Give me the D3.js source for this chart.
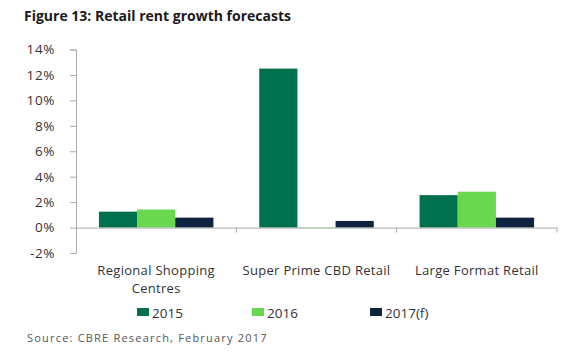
<!DOCTYPE html>
<html>
<head>
<meta charset="utf-8">
<script src="https://cdn.jsdelivr.net/npm/d3@7"></script>
<style>
  body { margin: 0; background: #fff; }
  text { font-family: "Open Sans", "DejaVu Sans", sans-serif; }
</style>
</head>
<body>
<svg id="chart" width="580" height="352"></svg>
<script>
const categories = [["Regional Shopping", "Centres"], ["Super Prime CBD Retail"], ["Large Format Retail"]];
const seriesNames = ["2015", "2016", "2017(f)"];
const values2015 = [1.25, 12.5, 2.55];
const values2016 = [1.42, 0.03, 2.82];
const values2017 = [0.78, 0.52, 0.78];
const yTicks = [-2, 0, 2, 4, 6, 8, 10, 12, 14];
const colors = ["#00704f", "#69d84f", "#0f2240"];

const series = [values2015, values2016, values2017];
const catKeys = categories.map(c => c.join(" "));

const svg = d3.select("#chart");
const plotLeft = 76, plotRight = 557, plotTop = 49.5, plotBottom = 253;

// title
svg.append("text")
  .attr("x", 24).attr("y", 21)
  .attr("font-size", 14).attr("font-weight", "bold")
  .attr("fill", "#1a1a1a")
  .text("Figure 13: Retail rent growth forecasts");

const x = d3.scaleBand().domain(catKeys).range([plotLeft, plotRight]);
const xInner = d3.scaleBand().domain(seriesNames).range([0, x.bandwidth()]).paddingOuter(0.6).paddingInner(0);
const y = d3.scaleLinear().domain([-2, 14]).range([plotBottom, plotTop]);

// y axis
const yAxis = svg.append("g")
  .attr("transform", `translate(${plotLeft},0)`)
  .call(d3.axisLeft(y).tickValues(yTicks).tickFormat(d => d + "%").tickSize(6).tickSizeOuter(6));
yAxis.select(".domain").attr("stroke", "#aaa");
yAxis.selectAll(".tick line").attr("stroke", "#aaa");
yAxis.selectAll(".tick text")
  .attr("x", -21)
  .attr("font-size", 13.5).attr("fill", "#333")
  .attr("letter-spacing", 0.6)
  .style("font-family", "'Open Sans', sans-serif");

// bars
series.forEach((vals, i) => {
  svg.selectAll(null)
    .data(vals)
    .enter()
    .append("rect")
    .attr("x", (d, j) => x(catKeys[j]) + xInner(seriesNames[i]))
    .attr("y", d => y(Math.max(0, d)))
    .attr("width", xInner.bandwidth())
    .attr("height", d => Math.abs(y(d) - y(0)))
    .attr("fill", colors[i]);
});

// x axis at zero
const xAxis = svg.append("g")
  .attr("transform", `translate(0,${y(0)})`)
  .call(d3.axisBottom(x).tickValues([]).tickSizeOuter(0));
xAxis.select(".domain").attr("stroke", "#aaa");
// boundary ticks between categories
const bounds = catKeys.map(k => x(k)).concat([plotRight]).slice(1);
svg.selectAll(null)
  .data(bounds)
  .enter()
  .append("line")
  .attr("x1", d => d).attr("x2", d => d)
  .attr("y1", y(0)).attr("y2", y(0) + 5)
  .attr("stroke", "#aaa");

// category labels, one text per line
categories.forEach((lines, j) => {
  lines.forEach((ln, k) => {
    svg.append("text")
      .attr("x", x(catKeys[j]) + x.bandwidth() / 2)
      .attr("y", 275 + k * 17.5)
      .attr("text-anchor", "middle")
      .attr("font-size", 13).attr("fill", "#333")
      .attr("letter-spacing", 0.3)
      .text(ln);
  });
});

// legend
const legendX = [137, 252, 370];
seriesNames.forEach((name, i) => {
  svg.append("rect")
    .attr("x", legendX[i]).attr("y", 308)
    .attr("width", 12).attr("height", 8)
    .attr("fill", colors[i]);
  svg.append("text")
    .attr("x", legendX[i] + 15).attr("y", 317.5)
    .attr("font-size", 13.5).attr("fill", "#333")
    .text(name);
});

// source
svg.append("text")
  .attr("x", 27).attr("y", 342)
  .attr("font-size", 11).attr("fill", "#555")
  .attr("letter-spacing", 1.2)
  .text("Source: CBRE Research, February 2017");
</script>
</body>
</html>
